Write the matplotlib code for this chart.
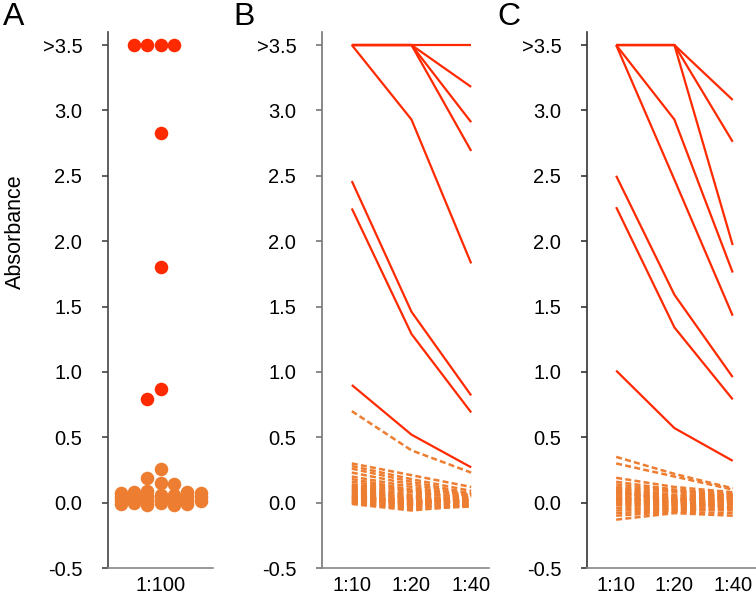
import matplotlib
matplotlib.use("Agg")
import matplotlib.pyplot as plt

plt.rcParams['font.family'] = ['Liberation Sans', 'DejaVu Sans']

RED = '#FF2A00'
ORANGE = '#ED7D31'

# panel A: single dilution 1:100
a_pos = [3.5, 3.5, 3.5, 3.5, 2.83, 1.80, 0.87, 0.79]
a_neg = [0.26, 0.19, 0.15, 0.14, 0.09, 0.08, 0.08, 0.07, 0.07, 0.06, 0.06,
         0.05, 0.05, 0.05, 0.04, 0.04, 0.04, 0.03, 0.03, 0.03, 0.02, 0.02,
         0.02, 0.01, 0.01, 0.01, 0.00, 0.00, -0.01, -0.01, -0.02, -0.02]

dilutions = ['1:10', '1:20', '1:40']

# panel B: rows are samples, columns are 1:10, 1:20, 1:40
b_pos = [[3.5, 3.5, 3.5], [3.5, 3.5, 3.18], [3.5, 3.5, 2.91], [3.5, 3.5, 2.69],
         [3.5, 2.93, 1.83], [2.46, 1.46, 0.82], [2.25, 1.29, 0.69],
         [0.90, 0.52, 0.27]]
b_neg = [[0.70, 0.40, 0.23], [0.30, 0.21, 0.12], [0.28, 0.18, 0.09],
         [0.26, 0.16, 0.07], [0.23, 0.14, 0.06], [0.20, 0.12, 0.05],
         [0.18, 0.10, 0.06], [0.16, 0.09, 0.04], [0.14, 0.08, 0.03],
         [0.13, 0.06, 0.05], [0.12, 0.05, 0.02], [0.11, 0.04, 0.03],
         [0.10, 0.03, 0.01], [0.09, 0.03, 0.04], [0.08, 0.02, 0.00],
         [0.07, 0.01, 0.02], [0.06, 0.00, -0.01], [0.05, 0.01, 0.03],
         [0.05, -0.01, 0.00], [0.04, -0.02, -0.02], [0.03, 0.00, 0.01],
         [0.02, -0.03, -0.01], [0.01, -0.02, -0.03], [0.00, -0.04, -0.02],
         [0.00, -0.05, -0.03], [-0.01, -0.06, -0.02], [0.02, -0.01, 0.02],
         [0.04, 0.02, -0.01]]

# panel C
c_pos = [[3.5, 3.5, 3.08], [3.5, 3.5, 2.76], [3.5, 3.5, 1.97], [3.5, 2.93, 1.76],
         [3.5, 2.47, 1.43], [2.50, 1.59, 0.96], [2.26, 1.34, 0.79],
         [1.01, 0.57, 0.32]]
c_neg = [[0.35, 0.22, 0.11], [0.30, 0.20, 0.10], [0.19, 0.12, 0.08],
         [0.16, 0.10, 0.07], [0.14, 0.09, 0.06], [0.12, 0.08, 0.05],
         [0.11, 0.06, 0.04], [0.10, 0.05, 0.06], [0.09, 0.04, 0.03],
         [0.08, 0.03, 0.02], [0.07, 0.03, 0.05], [0.06, 0.02, 0.01],
         [0.05, 0.01, 0.03], [0.04, 0.00, 0.00], [0.03, 0.00, 0.02],
         [0.02, -0.01, -0.01], [0.01, -0.02, 0.01], [0.00, -0.02, -0.02],
         [-0.01, -0.03, -0.03], [-0.02, -0.04, -0.01], [-0.04, -0.05, -0.04],
         [-0.06, -0.05, -0.06], [-0.08, -0.06, -0.05], [-0.10, -0.07, -0.08],
         [-0.13, -0.08, -0.10], [0.03, 0.01, -0.04], [0.08, 0.02, 0.04]]

yticks = [-0.5, 0.0, 0.5, 1.0, 1.5, 2.0, 2.5, 3.0, 3.5]
ytick_labels = ['-0.5', '0.0', '0.5', '1.0', '1.5', '2.0', '2.5', '3.0', '>3.5']


def swarm_offsets(values, gap=0.09, ncols=3):
    """Grid beeswarm: columns 0,-1,1,-2,2,... ; overlap once all columns are used."""
    order = [0]
    for k in range(1, ncols + 1):
        order += [-k, k]
    placed = {c: [] for c in order}
    offsets = [0] * len(values)
    for i in sorted(range(len(values)), key=lambda i: -values[i]):
        v = values[i]
        best, best_d = None, -1
        for c in order:
            d = min([abs(v - p) for p in placed[c]], default=99)
            if d >= gap:
                best = c
                break
            if d > best_d:
                best, best_d = c, d
        placed[best].append(v)
        offsets[i] = best
    return offsets


def style_axis(ax, spine_color='#444444'):
    ax.set_ylim(-0.5, 3.6)
    ax.set_yticks(yticks)
    ax.set_yticklabels(ytick_labels)
    for s in ['top', 'right']:
        ax.spines[s].set_visible(False)
    ax.spines['left'].set_color(spine_color)
    ax.spines['bottom'].set_color('#888888')
    ax.spines['left'].set_linewidth(1.2)
    ax.spines['bottom'].set_linewidth(1.2)
    ax.tick_params(axis='y', direction='out', length=4.5, width=1.2, color=spine_color,
                   labelsize=14.5, pad=14)
    ax.tick_params(axis='x', length=0, labelsize=14.5, pad=6)


fig = plt.figure(figsize=(7.56, 6.03), dpi=100)
bottom, height = 0.058, 0.889
axA = fig.add_axes([0.1429, bottom, 0.139, height])
axB = fig.add_axes([0.4259, bottom, 0.221, height])
axC = fig.add_axes([0.7765, bottom, 0.2235, height])

# A
vals = a_pos + a_neg
offs = swarm_offsets(vals)
n_pos = len(a_pos)
axA.scatter(offs[:n_pos], a_pos, s=95, color=RED, linewidths=0, zorder=3)
axA.scatter(offs[n_pos:], a_neg, s=95, color=ORANGE, linewidths=0, zorder=2)
axA.set_xlim(-3.96, 3.93)
axA.set_xticks([0])
axA.set_xticklabels(['1:100'])
style_axis(axA)

# B and C
x = list(range(len(dilutions)))
for ax, pos, neg, sc in [(axB, b_pos, b_neg, '#777777'), (axC, c_pos, c_neg, '#333333')]:
    for row in neg:
        ax.plot(x, row, color=ORANGE, lw=1.8, dashes=(2.4, 1.3), zorder=2)
    for row in pos:
        ax.plot(x, row, color=RED, lw=1.6, zorder=3, solid_capstyle='butt')
    ax.set_xticks(x)
    ax.set_xticklabels(dilutions)
    style_axis(ax, sc)
axB.set_xlim(-0.5, 2.3)
axC.set_xlim(-0.5, 2.4)

fig.text(15 / 756, 1 - 232 / 603, 'Absorbance', rotation=90, ha='center', va='center',
         fontsize=15.5)
for lbl, px in [('A', 3), ('B', 233), ('C', 497)]:
    fig.text(px / 756, 1 - 2 / 603, lbl, ha='left', va='top', fontsize=23)

fig.savefig('out.png', dpi=100)
